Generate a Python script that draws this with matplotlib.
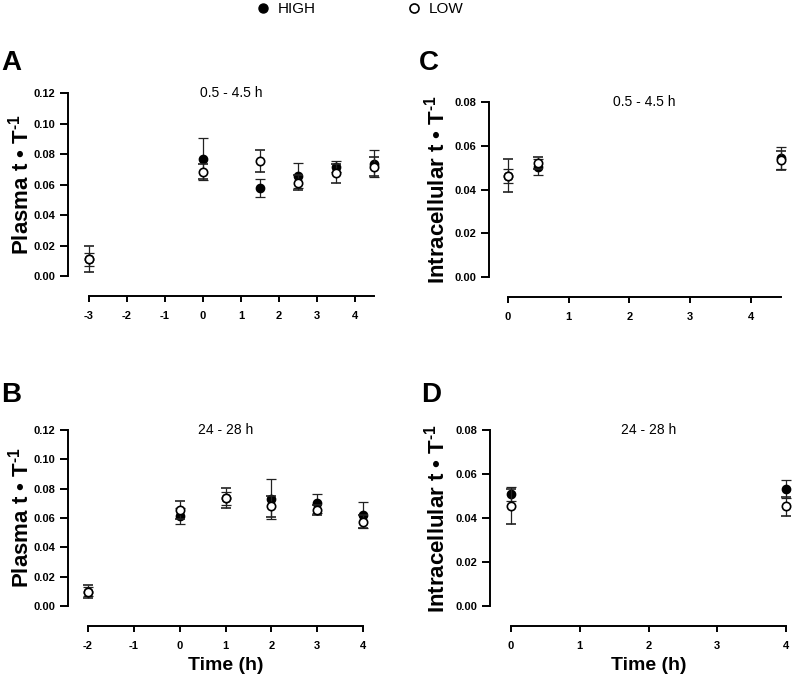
import matplotlib
matplotlib.use("Agg")
import matplotlib.pyplot as plt
from matplotlib.lines import Line2D

plt.rcParams["font.family"] = ["Liberation Sans", "DejaVu Sans"]
plt.rcParams["mathtext.fontset"] = "custom"
plt.rcParams["mathtext.rm"] = "Liberation Sans:bold"
plt.rcParams["mathtext.bf"] = "Liberation Sans:bold"
plt.rcParams["mathtext.default"] = "regular"

# panel A: plasma, 0.5 - 4.5 h
A_x = [-3, 0, 1.5, 2.5, 3.5, 4.5]
A_high = [0.0109, 0.0769, 0.0578, 0.0659, 0.0718, 0.0736]
A_high_err = [0.0045, 0.0138, 0.0057, 0.0083, 0.0033, 0.0087]
A_low = [0.0109, 0.0685, 0.0755, 0.0613, 0.0674, 0.0718]
A_low_err = [0.0085, 0.0048, 0.0070, 0.0048, 0.0061, 0.0061]

# panel B: plasma, 24 - 28 h
B_x = [-2, 0, 1, 2, 3, 4]
B_high = [0.0098, 0.0614, 0.0735, 0.0728, 0.0701, 0.0619]
B_high_err = [0.0030, 0.0052, 0.0045, 0.0137, 0.0066, 0.0089]
B_low = [0.0098, 0.0655, 0.0737, 0.0680, 0.0655, 0.0575]
B_low_err = [0.0044, 0.0062, 0.0068, 0.0070, 0.0032, 0.0045]

# panel C: intracellular, 0.5 - 4.5 h
C_x = [0, 0.5, 4.5]
C_high = [0.0463, 0.0503, 0.0545]
C_high_err = [0.0031, 0.0037, 0.0049]
C_low = [0.0463, 0.0521, 0.0533]
C_low_err = [0.0075, 0.0028, 0.0043]

# panel D: intracellular, 24 - 28 h
D_x = [0, 4]
D_high = [0.0508, 0.0531]
D_high_err = [0.0031, 0.0041]
D_low = [0.0453, 0.0453]
D_low_err = [0.0080, 0.0044]

W, H = 792, 684
fig = plt.figure(figsize=(W / 100, H / 100), dpi=100)


def px(x0, y0, x1, y1):
    # pixel box (left, top, right, bottom) -> figure fraction rect
    return [x0 / W, 1 - y1 / H, (x1 - x0) / W, (y1 - y0) / H]


def panel(rect, xlim, ylim, xticks, yticks, ymax, x, hi, hi_e, lo, lo_e,
          ylabel, title, letter, letter_xy, label_x_px, xlabel=None):
    ax = fig.add_axes(px(*rect))
    ax.set_xlim(*xlim)
    ax.set_ylim(*ylim)
    ax.errorbar(x, hi, yerr=hi_e, fmt="o", ms=6, mfc="black", mec="black",
                ecolor="#222222", elinewidth=0.9, capsize=3.5, capthick=0.9,
                clip_on=False, zorder=3)
    ax.errorbar(x, lo, yerr=lo_e, fmt="o", ms=6, mfc="white", mec="black",
                mew=1.2, ecolor="#222222", elinewidth=0.9, capsize=3.5,
                capthick=0.9, clip_on=False, zorder=4)
    for s in ["top", "right"]:
        ax.spines[s].set_visible(False)
    for s in ["left", "bottom"]:
        ax.spines[s].set_linewidth(1.4)
    ax.spines["left"].set_bounds(0, ymax)
    ax.spines["bottom"].set_bounds(xticks[0], max(x))
    ax.set_xticks(xticks)
    ax.set_yticks(yticks)
    ax.set_xticklabels([str(t) for t in xticks])
    ax.set_yticklabels(["%.2f" % t for t in yticks])
    ax.tick_params(axis="y", length=6, width=1.4, pad=3, labelsize=8)
    ax.tick_params(axis="x", length=4, width=1.4, pad=7, labelsize=8)
    for lab in ax.get_xticklabels() + ax.get_yticklabels():
        lab.set_fontweight("bold")
    ax.set_ylabel(ylabel, fontsize=16, fontweight="bold")
    ax.yaxis.label.set_va("center")
    l, t, r, b = rect
    ymid_px = b - (b - t) * ((ymax / 2) - ylim[0]) / (ylim[1] - ylim[0])
    ax.yaxis.set_label_coords((label_x_px - l) / (r - l), (b - ymid_px) / (b - t))
    xm = (xticks[0] + max(x)) / 2
    if xlabel:
        ax.set_xlabel(xlabel, fontsize=14, fontweight="bold")
        ax.xaxis.label.set_va("center")
        xm_px = l + (r - l) * (xm - xlim[0]) / (xlim[1] - xlim[0])
        ax.xaxis.set_label_coords((xm_px - l) / (r - l), (b - 666) / (b - t))
    ax.text(xm, ymax, title, ha="center", va="center", fontsize=10)
    fig.text(letter_xy[0] / W, 1 - letter_xy[1] / H, letter, fontsize=20,
             fontweight="bold", ha="left", va="baseline")
    return ax


ylab_plasma = r"Plasma t • T$^{\text{-1}}$"
ylab_intra = r"Intracellular t • T$^{\text{-1}}$"

panel((68, 93, 380, 296), (-3.553, 4.658), (-0.0131, 0.12),
      [-3, -2, -1, 0, 1, 2, 3, 4], [0, 0.02, 0.04, 0.06, 0.08, 0.10, 0.12], 0.12,
      A_x, A_high, A_high_err, A_low, A_low_err,
      ylab_plasma, "0.5 - 4.5 h", "A", (1, 70), 21)

panel((489, 102, 788, 297), (-0.313, 4.615), (-0.00914, 0.08),
      [0, 1, 2, 3, 4], [0, 0.02, 0.04, 0.06, 0.08], 0.08,
      C_x, C_high, C_high_err, C_low, C_low_err,
      ylab_intra, "0.5 - 4.5 h", "C", (419, 70), 437)

panel((68, 430, 372, 626), (-2.436, 4.196), (-0.01364, 0.12),
      [-2, -1, 0, 1, 2, 3, 4], [0, 0.02, 0.04, 0.06, 0.08, 0.10, 0.12], 0.12,
      B_x, B_high, B_high_err, B_low, B_low_err,
      ylab_plasma, "24 - 28 h", "B", (1, 402), 21, xlabel="Time (h)")

panel((490, 430, 790, 626), (-0.3055, 4.058), (-0.00909, 0.08),
      [0, 1, 2, 3, 4], [0, 0.02, 0.04, 0.06, 0.08], 0.08,
      D_x, D_high, D_high_err, D_low, D_low_err,
      ylab_intra, "24 - 28 h", "D", (421, 402), 437, xlabel="Time (h)")

handles = [Line2D([], [], marker="o", ls="", ms=6.5, mfc="black", mec="black"),
           Line2D([], [], marker="o", ls="", ms=6.5, mfc="white", mec="black", mew=1.2)]
fig.legend(handles, ["HIGH", "LOW"], loc="center", bbox_to_anchor=(360 / W, 1 - 9 / H),
           ncol=2, frameon=False, fontsize=11, handlelength=0.8,
           handletextpad=0.6, columnspacing=6.0)

fig.savefig("out.png", dpi=100)
